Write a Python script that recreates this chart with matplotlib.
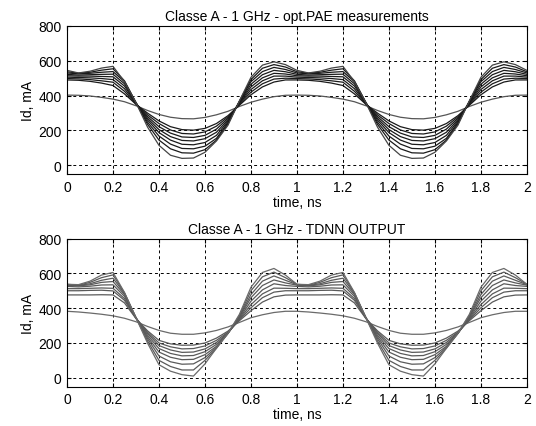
import numpy as np
import matplotlib
matplotlib.use("Agg")
import matplotlib.pyplot as plt

plt.rcParams['font.family'] = ['Liberation Sans', 'DejaVu Sans']

# one period of samples, 0 .. 0.95 ns every 0.05 ns (waveform repeats each 1 ns)
t_period = [0.0, 0.05, 0.1, 0.15, 0.2, 0.25, 0.3, 0.35, 0.4, 0.45,
            0.5, 0.55, 0.6, 0.65, 0.7, 0.75, 0.8, 0.85, 0.9, 0.95]

# measured Id (mA), lowest drive level first
meas = [
    [403, 402, 398, 390, 380, 365, 342, 315, 292, 276, 268, 267, 275, 290, 310, 338, 362, 380, 394, 402],
    [490, 488, 482, 472, 458, 410, 350, 300, 255, 222, 205, 202, 212, 240, 285, 345, 405, 450, 478, 490],
    [498, 496, 492, 485, 477, 425, 352, 290, 240, 203, 183, 180, 192, 225, 278, 350, 420, 468, 495, 500],
    [506, 504, 502, 498, 492, 440, 355, 280, 222, 185, 163, 160, 172, 208, 270, 355, 435, 485, 512, 512],
    [514, 512, 512, 510, 508, 455, 357, 270, 205, 165, 143, 140, 153, 190, 262, 360, 450, 502, 528, 524],
    [522, 518, 520, 522, 523, 468, 358, 260, 188, 145, 121, 118, 131, 172, 254, 364, 465, 520, 545, 537],
    [530, 525, 528, 534, 538, 480, 359, 248, 168, 122, 97, 95, 110, 155, 246, 367, 480, 538, 562, 550],
    [537, 529, 534, 546, 554, 485, 360, 236, 145, 95, 72, 70, 90, 145, 238, 369, 492, 557, 578, 564],
    [545, 530, 540, 558, 568, 480, 360, 220, 115, 58, 40, 42, 75, 140, 230, 370, 505, 575, 594, 578],
]

# TDNN output Id (mA)
tdnn = [
    [382, 378, 372, 365, 356, 342, 322, 295, 272, 256, 250, 250, 258, 272, 292, 318, 345, 362, 375, 382],
    [476, 476, 476, 477, 476, 430, 340, 270, 215, 195, 187, 188, 200, 228, 268, 328, 385, 435, 465, 475],
    [500, 500, 502, 503, 499, 445, 342, 262, 200, 178, 166, 168, 183, 215, 262, 332, 402, 460, 492, 500],
    [512, 512, 514, 516, 514, 455, 343, 255, 185, 160, 146, 148, 166, 203, 258, 337, 420, 482, 515, 514],
    [525, 522, 526, 533, 534, 468, 344, 245, 168, 140, 126, 128, 150, 192, 256, 342, 440, 505, 540, 530],
    [532, 528, 534, 548, 553, 478, 345, 235, 148, 118, 104, 106, 133, 181, 255, 348, 460, 530, 562, 545],
    [535, 530, 540, 560, 572, 485, 345, 225, 125, 92, 78, 80, 116, 175, 255, 352, 478, 555, 585, 560],
    [537, 532, 548, 575, 591, 488, 345, 212, 100, 65, 45, 45, 100, 170, 255, 358, 500, 580, 607, 575],
    [537, 535, 555, 590, 605, 490, 345, 200, 75, 38, 18, 10, 80, 170, 255, 365, 520, 605, 628, 590],
]

titles = ["Classe A - 1 GHz - opt.PAE measurements", "Classe A - 1 GHz - TDNN OUTPUT"]
xticks = [0, 0.2, 0.4, 0.6, 0.8, 1, 1.2, 1.4, 1.6, 1.8, 2]
yticks = [0, 200, 400, 600, 800]

tp = np.array(t_period)
t = np.concatenate([tp, tp + 1, [2.0]])


def two_periods(p):
    p = np.array(p, dtype=float)
    return np.concatenate([p, p, p[:1]])


fig = plt.figure(figsize=(5.36, 4.27), dpi=100)
ax1 = fig.add_axes([0.125, 0.590, 0.858, 0.347])
ax2 = fig.add_axes([0.125, 0.0925, 0.858, 0.3466])

colors_top = ['#555555'] + ['#1a1a1a'] * 7 + ['#444444']
colors_bot = ['#6a6a6a'] + ['#5a5a5a'] * 7 + ['#6a6a6a']

for ax, data, title, cols in [(ax1, meas, titles[0], colors_top), (ax2, tdnn, titles[1], colors_bot)]:
    for row, c in zip(data, cols):
        ax.plot(t, two_periods(row), color=c, lw=0.9)
    ax.set_xlim(0, 2)
    ax.set_ylim(-50, 800)
    ax.set_xticks(xticks)
    ax.set_xticklabels([f"{v:g}" for v in xticks])
    ax.set_yticks(yticks)
    ax.grid(True, color='black', linestyle=(0, (3, 3)), linewidth=0.7)
    ax.tick_params(direction='in', length=3, labelsize=10, top=True, right=True, pad=4)
    for s in ax.spines.values():
        s.set_linewidth(0.8)
    ax.set_title(title, fontsize=10, pad=4)
    ax.set_xlabel("time, ns", fontsize=10, labelpad=1)
    ax.set_ylabel("Id, mA", fontsize=10, labelpad=2)

fig.savefig("out.png", dpi=100, facecolor='white')
